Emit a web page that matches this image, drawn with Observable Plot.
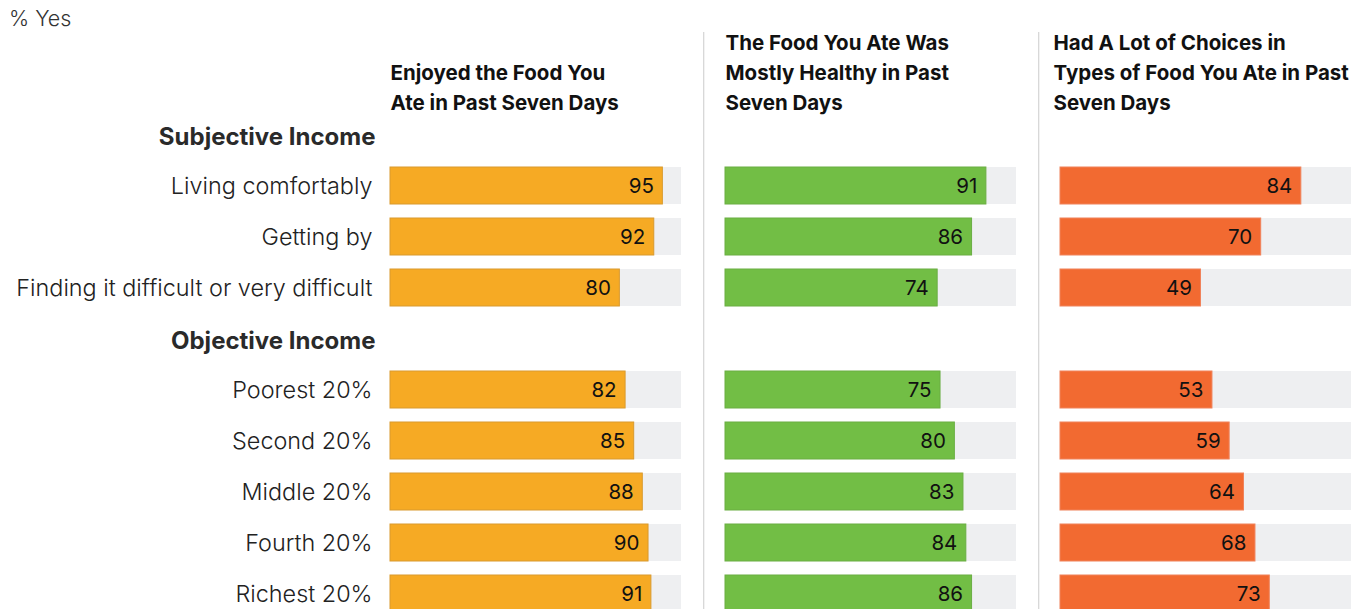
<!DOCTYPE html>
<html><head><meta charset="utf-8">
<script src="https://cdn.jsdelivr.net/npm/d3@7"></script>
<script src="https://cdn.jsdelivr.net/npm/@observablehq/plot@0.6"></script>
<style>
body{margin:0;background:#fff;overflow:hidden;font-family:Inter,sans-serif}
#wrap{position:relative;width:1366px;height:609px;overflow:hidden}
#note{position:absolute;left:9px;top:5px;font:300 21.5px Inter,sans-serif;color:#333}
</style></head><body>
<div id="wrap"><div id="note">% Yes</div><div id="chart"></div></div>
<script>
const panels = ["enjoyed", "healthy", "choices"];
const panelTitles = [
  "Enjoyed the Food You\nAte in Past Seven Days",
  "The Food You Ate Was\nMostly Healthy in Past\nSeven Days",
  "Had A Lot of Choices in\nTypes of Food You Ate in Past\nSeven Days"
];
const panelColors = ["#F6AA24", "#72BE45", "#F26A31"];
const panelStrokes = ["#D99A2E", "#6AAE43", "#F0825A"];
const groups = ["Subjective Income", "Objective Income"];
const subjectiveRows = ["Living comfortably", "Getting by", "Finding it difficult or very difficult"];
const objectiveRows = ["Poorest 20%", "Second 20%", "Middle 20%", "Fourth 20%", "Richest 20%"];
const enjoyed = [95, 92, 80, 82, 85, 88, 90, 91];
const healthy = [91, 86, 74, 75, 80, 83, 84, 86];
const choices = [84, 70, 49, 53, 59, 64, 68, 73];

const rows = [...subjectiveRows, ...objectiveRows];
const yDomain = [groups[0], ...subjectiveRows, groups[1], ...objectiveRows];
const series = {enjoyed, healthy, choices};
const data = [];
panels.forEach((p, pi) => rows.forEach((r, i) => data.push({panel: p, row: r, value: series[p][i], color: panelColors[pi], stroke: panelStrokes[pi]})));
const maxX = 101.5;
const bg = data.map(d => ({...d, value: maxX}));
const titles = panels.map((p, i) => ({panel: p, title: panelTitles[i]}));
const seps = panels.slice(1).map(p => ({panel: p}));
const labelRows = rows.map(r => ({panel: panels[0], row: r}));
const groupRows = groups.map(g => ({panel: panels[0], row: g}));

const titleOpts = {fx: "panel", text: "title", frameAnchor: "top-left", textAnchor: "start", lineAnchor: "bottom", lineHeight: 1.45, dy: 2, fontSize: 20.5, fontWeight: 700, fill: "#111"};

const chart = Plot.plot({
  width: 1366,
  height: 640,
  marginLeft: 389,
  marginRight: 13,
  marginTop: 107,
  marginBottom: 20,
  style: {fontFamily: "Inter, sans-serif", background: "transparent"},
  fx: {domain: panels, padding: 0.13, axis: null},
  x: {domain: [0, maxX], axis: null},
  y: {domain: yDomain, axis: null, paddingInner: 0.28, paddingOuter: 0.14},
  marks: [
    Plot.barX(bg, {fx: "panel", y: "row", x: "value", fill: "#EEEFF1"}),
    Plot.barX(data, {fx: "panel", y: "row", x: "value", fill: "color", stroke: "stroke", strokeWidth: 1}),
    Plot.text(data, {fx: "panel", y: "row", x: "value", text: d => String(d.value), textAnchor: "end", dx: -9, fontSize: 20.5, fill: "#111"}),
    Plot.text(labelRows, {fx: "panel", y: "row", text: "row", frameAnchor: "left", textAnchor: "end", dx: -18, fontSize: 23.4, fontWeight: 300, fill: "#222"}),
    Plot.text(groupRows, {fx: "panel", y: "row", text: "row", frameAnchor: "left", textAnchor: "end", dx: -15, dy: 2, fontSize: 24, fontWeight: 700, fill: "#2a2a2a"}),
    Plot.text(titles.filter(t => t.panel !== "choices"), titleOpts),
    Plot.text(titles.filter(t => t.panel === "choices"), {...titleOpts, dx: -7}),
    Plot.ruleX(seps, {fx: "panel", x: -7.6, stroke: "#D4D4D4", strokeWidth: 1.2, insetTop: -75, insetBottom: -20})
  ]
});
document.getElementById("chart").appendChild(chart);
</script>
</body></html>
